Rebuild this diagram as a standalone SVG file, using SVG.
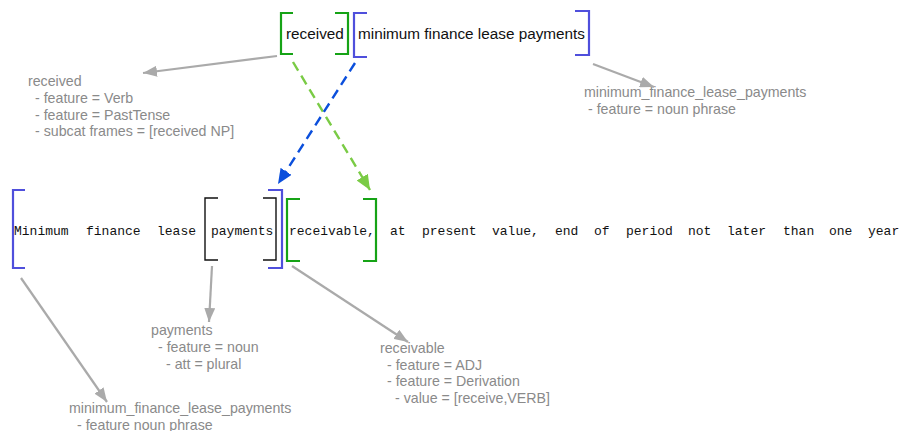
<svg xmlns="http://www.w3.org/2000/svg" width="901" height="431" viewBox="0 0 901 431">
  <style>
    .bg { fill: #ffffff; }
    .br { fill: none; stroke-linecap: butt; stroke-linejoin: miter; }
    .green { stroke: #16a316; stroke-width: 2.2; }
    .blue { stroke: #4f4fdc; stroke-width: 2.2; }
    .black { stroke: #111111; stroke-width: 1.4; }
    .top { font-family: "Liberation Sans", Arial, Helvetica, sans-serif; font-size: 15.3px; fill: #111111; }
    .mono { font-family: "Liberation Mono", "DejaVu Sans Mono", monospace; font-size: 13px; fill: #111111; }
    .note { font-family: "Liberation Sans", Arial, Helvetica, sans-serif; font-size: 14.2px; fill: #8a8a8a; }
    .gray { fill: none; stroke: #aaaaaa; stroke-width: 2.2; }
    .dash-g { fill: none; stroke: #7acb45; stroke-width: 2.4; stroke-dasharray: 10 6; }
    .dash-b { fill: none; stroke: #0b4fdc; stroke-width: 2.4; stroke-dasharray: 10 6; }
  </style>
  <defs>
    <marker id="ah-gray" markerUnits="userSpaceOnUse" markerWidth="15" markerHeight="11" refX="14" refY="5.5" orient="auto">
      <path d="M0,0 L14,5.5 L0,11 z" fill="#aaaaaa"/>
    </marker>
    <marker id="ah-green" markerUnits="userSpaceOnUse" markerWidth="16" markerHeight="13" refX="15" refY="6.5" orient="auto">
      <path d="M0,0 L15,6.5 L0,13 z" fill="#7acb45"/>
    </marker>
    <marker id="ah-blue" markerUnits="userSpaceOnUse" markerWidth="16" markerHeight="13" refX="15" refY="6.5" orient="auto">
      <path d="M0,0 L15,6.5 L0,13 z" fill="#0b4fdc"/>
    </marker>
  </defs>

  <rect class="bg" x="0" y="0" width="901" height="431"/>

  <!-- upper phrase -->
  <g id="top-received">
    <path class="br green" d="M293,13 H281 V54 H293"/>
    <path class="br green" d="M335,13 H348 V54 H335"/>
    <text class="top" x="286" y="38.5">received</text>
  </g>
  <g id="top-payments">
    <path class="br blue" d="M367,13 H354 V57 H367"/>
    <path class="br blue" d="M575,11 H589 V55 H575"/>
    <text class="top" x="358" y="38.5">minimum finance lease payments</text>
  </g>

  <!-- lower sentence -->
  <g id="sentence">
    <path class="br blue" d="M25,190 H13 V268 H25"/>
    <path class="br blue" d="M268,190 H282 V268 H268"/>
    <text class="mono" y="235">
      <tspan x="14">Minimum</tspan><tspan x="86">finance</tspan><tspan x="157">lease</tspan>
    </text>
  </g>
  <g id="payments">
    <path class="br black" d="M218,198 H205 V260 H218"/>
    <path class="br black" d="M263,198 H276 V260 H263"/>
    <text class="mono" x="211" y="235">payments</text>
  </g>
  <g id="receivable">
    <path class="br green" d="M300,199 H287 V261 H300"/>
    <path class="br green" d="M363,199 H376 V261 H363"/>
    <text class="mono" x="289" y="235">receivable,</text>
  </g>
  <g id="rest">
    <text class="mono" y="235">
      <tspan x="390">at</tspan><tspan x="422">present</tspan><tspan x="492">value,</tspan><tspan x="555">end</tspan><tspan x="594">of</tspan><tspan x="626">period</tspan><tspan x="688">not</tspan><tspan x="727">later</tspan><tspan x="783">than</tspan><tspan x="829">one</tspan><tspan x="868">year</tspan>
    </text>
  </g>

  <!-- annotations -->
  <g id="note-received">
    <text class="note" x="28" y="86">received</text>
    <text class="note" x="35" y="103">- feature = Verb</text>
    <text class="note" x="35" y="119.5">- feature = PastTense</text>
    <text class="note" x="35" y="136">- subcat frames = [received NP]</text>
  </g>
  <g id="note-mflp-top">
    <text class="note" x="584" y="97">minimum_finance_lease_payments</text>
    <text class="note" x="588" y="113.5">- feature = noun phrase</text>
  </g>
  <g id="note-payments">
    <text class="note" x="151" y="335">payments</text>
    <text class="note" x="158" y="352">- feature = noun</text>
    <text class="note" x="166" y="368.5">- att = plural</text>
  </g>
  <g id="note-receivable">
    <text class="note" x="380" y="353">receivable</text>
    <text class="note" x="387" y="369.5">- feature = ADJ</text>
    <text class="note" x="387" y="386">- feature = Derivation</text>
    <text class="note" x="395" y="402.5">- value = [receive,VERB]</text>
  </g>
  <g id="note-mflp-bottom">
    <text class="note" x="69" y="413">minimum_finance_lease_payments</text>
    <text class="note" x="77" y="429.5">- feature noun phrase</text>
  </g>

  <!-- connectors -->
  <g id="connectors">
    <line class="gray" x1="277" y1="56" x2="143" y2="73" marker-end="url(#ah-gray)"/>
    <line class="gray" x1="593" y1="64" x2="654" y2="87" marker-end="url(#ah-gray)"/>
    <line class="gray" x1="21" y1="278" x2="107" y2="402" marker-end="url(#ah-gray)"/>
    <line class="gray" x1="212" y1="266" x2="209" y2="322" marker-end="url(#ah-gray)"/>
    <line class="gray" x1="292" y1="266" x2="408" y2="342" marker-end="url(#ah-gray)"/>
    <line class="dash-g" x1="293" y1="62" x2="370" y2="190" marker-end="url(#ah-green)"/>
    <line class="dash-b" x1="355" y1="63" x2="278" y2="184" marker-end="url(#ah-blue)"/>
  </g>
</svg>
